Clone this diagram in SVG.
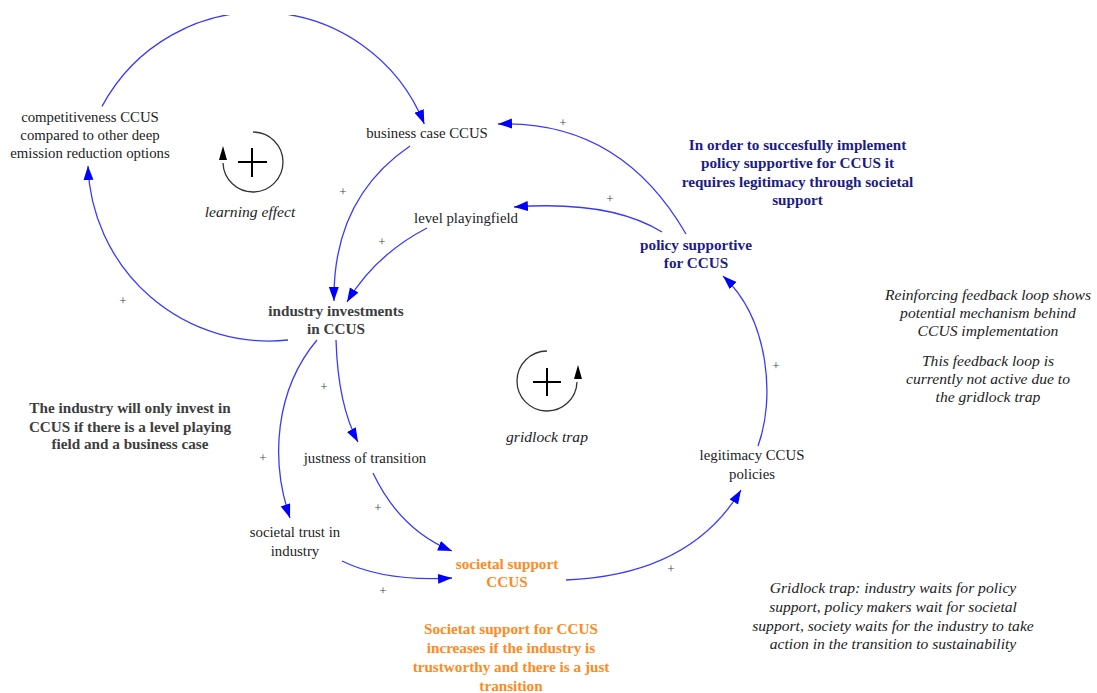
<svg xmlns="http://www.w3.org/2000/svg" width="1097" height="693" viewBox="0 0 1097 693">
<style>
.t{font-family:"Liberation Serif","Times New Roman",serif;font-size:14.8px;fill:#222;text-anchor:middle}
.b{font-weight:bold;font-size:15.2px}
.i{font-style:italic;font-size:15.6px}
.gray{fill:#3d3d3d}
.navy{fill:#1c1c86}
.orange{fill:#ff8a1e}
.pl{font-family:"Liberation Serif",serif;font-size:13px;fill:#444;text-anchor:middle}
.c{fill:none;stroke:#3a3aff;stroke-width:1.3}
.loop{fill:none;stroke:#333;stroke-width:1.3}
</style>
<defs>
<marker id="ah" markerUnits="userSpaceOnUse" markerWidth="16" markerHeight="12" refX="14" refY="5" orient="auto">
<path d="M0,0 L14,5 L0,10 z" fill="#0000ff"/>
</marker>
<clipPath id="top"><rect x="0" y="15" width="1097" height="678"/></clipPath>
</defs>
<rect width="1097" height="693" fill="#fff"/>

<g id="connectors">
<path class="c" clip-path="url(#top)" d="M102,106.4 A178,178 0 0 1 424.3,123.9" marker-end="url(#ah)"/>
<path class="c" d="M288,340 A181,181 0 0 1 88,166" marker-end="url(#ah)"/>
<path class="c" d="M410,146 C360,180 333,230 334,301" marker-end="url(#ah)"/>
<path class="c" d="M427,228 Q375,255 347,302" marker-end="url(#ah)"/>
<path class="c" d="M686,234 Q620,120 498,124" marker-end="url(#ah)"/>
<path class="c" d="M662,232 Q610,200 514,207" marker-end="url(#ah)"/>
<path class="c" d="M336,340 Q338,405 358,442" marker-end="url(#ah)"/>
<path class="c" d="M317,340 C275,390 270,460 290,518" marker-end="url(#ah)"/>
<path class="c" d="M373,473 Q400,530 452,551" marker-end="url(#ah)"/>
<path class="c" d="M342,561 Q385,582 452,578" marker-end="url(#ah)"/>
<path class="c" d="M566,580 Q690,575 741,490" marker-end="url(#ah)"/>
<path class="c" d="M758,446 C775,400 770,320 723,276" marker-end="url(#ah)"/>
<text class="pl" x="343" y="196">+</text>
<text class="pl" x="382" y="246">+</text>
<text class="pl" x="563" y="127">+</text>
<text class="pl" x="610" y="203">+</text>
<text class="pl" x="123" y="305">+</text>
<text class="pl" x="324" y="391">+</text>
<text class="pl" x="263" y="462">+</text>
<text class="pl" x="378" y="512">+</text>
<text class="pl" x="383" y="595">+</text>
<text class="pl" x="671" y="573">+</text>
<text class="pl" x="776" y="370">+</text>
</g>

<g id="learning-loop">
<path class="loop" d="M253,132 A30,30 0 1 1 223,163"/>
<path d="M223,146 L227,160 L219,160 z" fill="#000"/>
<path d="M238,162 H267 M252,148 V177" stroke="#000" stroke-width="2"/>
<text class="t i" x="250" y="217">learning effect</text>
</g>

<g id="gridlock-loop">
<path class="loop" d="M547,351 A30,30 0 1 0 577,382"/>
<path d="M578,365 L582,379 L574,379 z" fill="#000"/>
<path d="M533,382 H561 M547,368 V396" stroke="#000" stroke-width="2"/>
<text class="t i" x="547" y="442">gridlock trap</text>
</g>

<g id="competitiveness">
<text class="t" x="90" y="122">competitiveness CCUS</text>
<text class="t" x="90" y="140">compared to other deep</text>
<text class="t" x="90" y="158">emission reduction options</text>
</g>
<g id="business-case"><text class="t" x="427" y="138">business case CCUS</text></g>
<g id="level-playingfield"><text class="t" x="466" y="223">level playingfield</text></g>
<g id="industry-investments">
<text class="t b gray" x="336" y="316">industry investments</text>
<text class="t b gray" x="336" y="334">in CCUS</text>
</g>
<g id="policy-supportive">
<text class="t b navy" x="696" y="250">policy supportive</text>
<text class="t b navy" x="696" y="268">for CCUS</text>
</g>
<g id="justness"><text class="t" x="365" y="463">justness of transition</text></g>
<g id="legitimacy">
<text class="t" x="752" y="460">legitimacy CCUS</text>
<text class="t" x="752" y="479">policies</text>
</g>
<g id="societal-trust">
<text class="t" x="295" y="537">societal trust in</text>
<text class="t" x="295" y="556">industry</text>
</g>
<g id="societal-support">
<text class="t b orange" x="507" y="569">societal support</text>
<text class="t b orange" x="507" y="587">CCUS</text>
</g>

<g id="note-policy">
<text class="t b navy" x="797.5" y="150">In order to succesfully implement</text>
<text class="t b navy" x="797.5" y="168">policy supportive for CCUS it</text>
<text class="t b navy" x="797.5" y="187">requires legitimacy through societal</text>
<text class="t b navy" x="797.5" y="205">support</text>
</g>
<g id="note-industry">
<text class="t b gray" x="130" y="413">The industry will only invest in</text>
<text class="t b gray" x="130" y="432">CCUS if there is a level playing</text>
<text class="t b gray" x="130" y="449">field and a business case</text>
</g>
<g id="note-reinforcing">
<text class="t i" x="988" y="300">Reinforcing feedback loop shows</text>
<text class="t i" x="988" y="318">potential mechanism behind</text>
<text class="t i" x="988" y="336">CCUS implementation</text>
<text class="t i" x="988" y="366">This feedback loop is</text>
<text class="t i" x="988" y="384">currently not active due to</text>
<text class="t i" x="988" y="402">the gridlock trap</text>
</g>
<g id="note-gridlock">
<text class="t i" x="893" y="593">Gridlock trap: industry waits for policy</text>
<text class="t i" x="893" y="612">support, policy makers wait for societal</text>
<text class="t i" x="893" y="631">support, society waits for the industry to take</text>
<text class="t i" x="893" y="649">action in the transition to sustainability</text>
</g>
<g id="note-societal">
<text class="t b orange" x="511" y="634">Societat support for CCUS</text>
<text class="t b orange" x="511" y="653">increases if the industry is</text>
<text class="t b orange" x="511" y="672">trustworthy and there is a just</text>
<text class="t b orange" x="511" y="691">transition</text>
</g>
</svg>
